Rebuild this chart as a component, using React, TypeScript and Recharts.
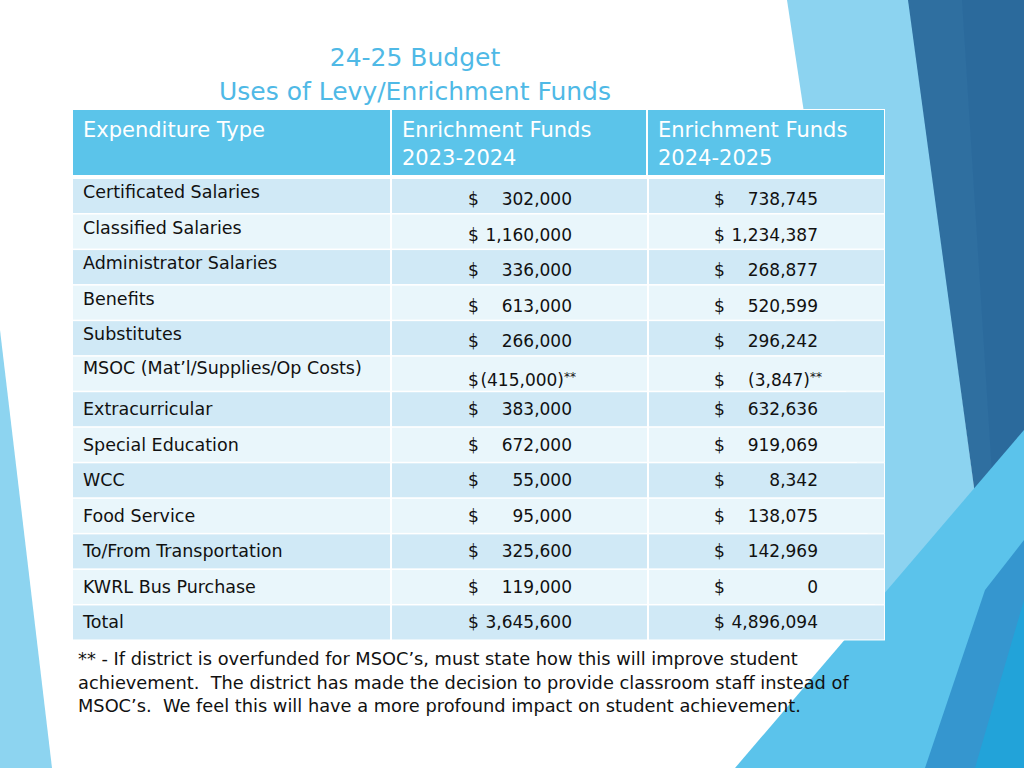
import React from "react";
import { ComposedChart, Bar, XAxis, YAxis, Customized } from "recharts";

const titleLines = ["24-25 Budget", "Uses of Levy/Enrichment Funds"];
const headerCols = [
  ["Expenditure Type"],
  ["Enrichment Funds", "2023-2024"],
  ["Enrichment Funds", "2024-2025"],
];
const categories = [
  "Certificated Salaries",
  "Classified Salaries",
  "Administrator Salaries",
  "Benefits",
  "Substitutes",
  "MSOC (Mat\u2019l/Supplies/Op Costs)",
  "Extracurricular",
  "Special Education",
  "WCC",
  "Food Service",
  "To/From Transportation",
  "KWRL Bus Purchase",
  "Total",
];
const fy2024 = [302000, 1160000, 336000, 613000, 266000, -415000, 383000, 672000, 55000, 95000, 325600, 119000, 3645600];
const fy2025 = [738745, 1234387, 268877, 520599, 296242, -3847, 632636, 919069, 8342, 138075, 142969, 0, 4896094];
const notes = ["", "", "", "", "", "**", "", "", "", "", "", "", ""];
const footnoteLines = [
  "** - If district is overfunded for MSOC\u2019s, must state how this will improve student",
  "achievement.  The district has made the decision to provide classroom staff instead of",
  "MSOC\u2019s.  We feel this will have a more profound impact on student achievement.",
];

const data = categories.map((type, i) => ({
  type,
  fy24: fy2024[i],
  fy25: fy2025[i],
  note: notes[i],
}));

const FONT = "'DejaVu Sans', Verdana, sans-serif";
const HEADER_BG = "#5bc4ea";
const ROW_DARK = "#d0e9f6";
const ROW_LIGHT = "#e9f6fb";
const TITLE_COLOR = "#4fb9e6";
const TABLE_X = 73;
const TABLE_W = 811;

const fmt = (v: number) => {
  const s = Math.abs(v).toLocaleString("en-US");
  return v < 0 ? `(${s})` : s;
};

const MoneyCell = ({ value, note, dollarX, numX, y }: any) => {
  const end = value < 0 ? numX + 4 : numX;
  return (
    <g>
      <text x={dollarX} y={y} fontFamily={FONT} fontSize={17} fill="#111">$</text>
      <text x={end} y={y} textAnchor="end" fontFamily={FONT} fontSize={17} fill="#111">
        {fmt(value)}
        {note ? (
          <tspan fontSize={12} dy={-5}>{note}</tspan>
        ) : null}
      </text>
    </g>
  );
};

const RowShape = (props: any) => {
  const { y, height, payload, index } = props;
  const x0 = TABLE_X;
  const w = TABLE_W;
  const fill = index % 2 === 0 ? ROW_DARK : ROW_LIGHT;
  const c1 = x0 + 317;
  const c2 = x0 + 574;
  const cy = y + height / 2;
  const top = index < 6;
  const labelY = cy + 6 + (top ? (index === 5 ? -6 : -4) : 0);
  const valueY = cy + 6 + (top ? (index === 5 ? 6 : 3) : 0);
  return (
    <g>
      <rect x={x0 - 1} y={y} width={w + 2} height={height} fill="#ffffff" />
      <rect x={x0} y={y + 1} width={c1 - x0} height={height - 2} fill={fill} />
      <rect x={c1 + 2} y={y + 1} width={c2 - c1 - 2} height={height - 2} fill={fill} />
      <rect x={c2 + 2} y={y + 1} width={x0 + w - c2 - 2} height={height - 2} fill={fill} />
      <text x={x0 + 10} y={labelY} fontFamily={FONT} fontSize={17.5} fill="#111">
        {payload.type}
      </text>
      <MoneyCell value={payload.fy24} note={payload.note} dollarX={x0 + 395} numX={x0 + 499} y={valueY} />
      <MoneyCell value={payload.fy25} note={payload.note} dollarX={x0 + 641} numX={x0 + 745} y={valueY} />
    </g>
  );
};

const Header = () => {
  const colX = [73, 392, 648];
  const colW = [317, 254, 236];
  return (
    <g>
      <text x={415} y={66} textAnchor="middle" fontFamily={FONT} fontSize={25} fill={TITLE_COLOR}>
        {titleLines[0]}
      </text>
      <text x={415} y={100} textAnchor="middle" fontFamily={FONT} fontSize={25} fill={TITLE_COLOR}>
        {titleLines[1]}
      </text>
      <rect x={72} y={109} width={813} height={69} fill="#ffffff" />
      {headerCols.map((lines, i) => (
        <g key={i}>
          <rect x={colX[i]} y={110} width={colW[i]} height={65} fill={HEADER_BG} />
          {lines.map((ln, j) => (
            <text
              key={j}
              x={colX[i] + 10}
              y={137 + j * 28}
              fontFamily={FONT}
              fontSize={21}
              fill="#ffffff"
            >
              {ln}
            </text>
          ))}
        </g>
      ))}
      {footnoteLines.map((ln, i) => (
        <text
          key={i}
          x={78}
          y={665 + i * 23.5}
          fontFamily={FONT}
          fontSize={17.8}
          fill="#111"
          style={{ whiteSpace: "pre" }}
        >
          {ln}
        </text>
      ))}
    </g>
  );
};

const Backdrop = () => (
  <svg width={1024} height={768} style={{ position: "absolute", left: 0, top: 0 }}>
    <rect x={0} y={0} width={1024} height={768} fill="#ffffff" />
    <polygon points="0,330 52,768 0,768" fill="#8dd4f0" />
    <polygon points="787,0 910,0 1011,768 903,768" fill="#8cd3f0" />
    <polygon points="908,0 1024,0 1024,768 1012,768" fill="#2f6fa0" />
    <polygon points="962,0 1024,0 1024,560 1000,600" fill="#2b6a9c" />
    <polygon points="735,768 1024,430 1024,768" fill="#5bc3eb" />
    <polygon points="925,768 985,590 1024,540 1024,768" fill="#3596cf" />
    <polygon points="975,768 1024,600 1024,768" fill="#22a3d9" />
  </svg>
);

export default function App() {
  return (
    <div style={{ position: "absolute", left: 0, top: 0, width: 1024, height: 768 }}>
      <Backdrop />
      <div style={{ position: "absolute", left: 0, top: 0 }}>
        <ComposedChart
          width={1024}
          height={768}
          layout="vertical"
          data={data}
          margin={{ top: 178, bottom: 128, left: 73, right: 140 }}
          barCategoryGap={0}
          barGap={0}
        >
          <XAxis type="number" hide />
          <YAxis type="category" dataKey="type" hide />
          <Customized component={Header} />
          <Bar dataKey="fy24" shape={RowShape} isAnimationActive={false} />
        </ComposedChart>
      </div>
    </div>
  );
}
